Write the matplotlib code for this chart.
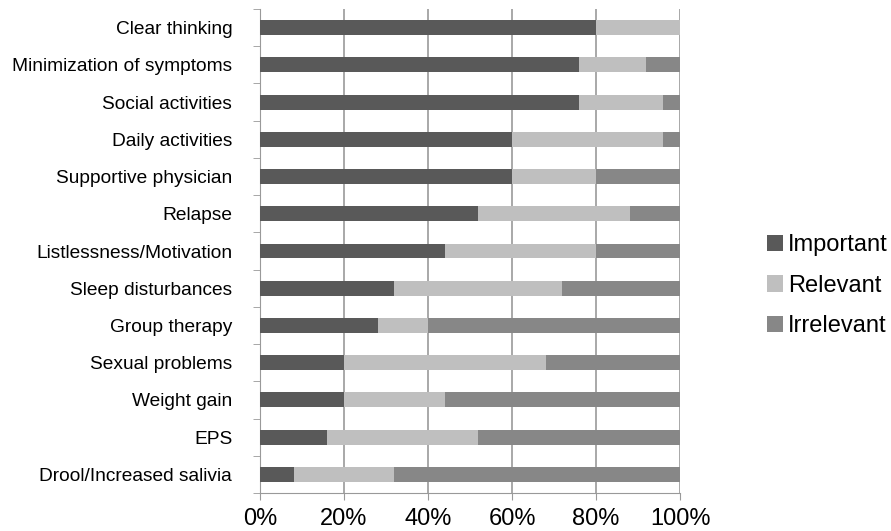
import numpy as np
import matplotlib.pyplot as plt
from matplotlib.ticker import FixedLocator

plt.rcParams['font.family'] = ['Liberation Sans', 'DejaVu Sans']

categories = ["Clear thinking", "Minimization of symptoms", "Social activities",
              "Daily activities", "Supportive physician", "Relapse",
              "Listlessness/Motivation", "Sleep disturbances", "Group therapy",
              "Sexual problems", "Weight gain", "EPS", "Drool/Increased salivia"]
important = [80, 76, 76, 60, 60, 52, 44, 32, 28, 20, 20, 16, 8]
relevant = [20, 16, 20, 36, 20, 36, 36, 40, 12, 48, 24, 36, 24]
irrelevant = [0, 8, 4, 4, 20, 12, 20, 28, 60, 32, 56, 48, 68]
xticks = [0, 20, 40, 60, 80, 100]

colors = ["#595959", "#bfbfbf", "#878787"]
labels = ["Important", "Relevant", "Irrelevant"]

fig = plt.figure(figsize=(8.91, 5.31), dpi=100)
ax = fig.add_axes([260 / 891, 38 / 531, 420 / 891, 484 / 531])

n = len(categories)
y = np.arange(n)[::-1]
left = np.zeros(n)
for vals, c, lab in zip([important, relevant, irrelevant], colors, labels):
    ax.barh(y, vals, left=left, height=0.4, color=c, label=lab, zorder=3)
    left += np.array(vals)

ax.set_xlim(0, 100)
ax.set_ylim(-0.5, n - 0.5)
ax.set_xticks(xticks)
ax.set_xticklabels([f"{v}%" for v in xticks], fontsize=17)
ax.set_yticks(y)
ax.set_yticklabels(categories, fontsize=13.8)
ax.yaxis.set_minor_locator(FixedLocator(np.arange(-0.5, n, 1)))
ax.tick_params(axis='y', which='major', length=0, pad=20)
ax.tick_params(axis='y', which='minor', length=5, color='#999999')
ax.tick_params(axis='x', length=5, color='#999999', pad=6)
ax.grid(axis='x', color='#999999', linewidth=1.2, zorder=0)
for s in ['top', 'right']:
    ax.spines[s].set_visible(False)
for s in ['left', 'bottom']:
    ax.spines[s].set_color('#999999')

ax.legend(loc='center left', bbox_to_anchor=(1.207, 0.428), frameon=False,
          fontsize=17, handlelength=0.68, handleheight=0.68, handletextpad=0.2,
          labelspacing=0.78, borderpad=0, borderaxespad=0)

fig.savefig("out.png", dpi=100)
